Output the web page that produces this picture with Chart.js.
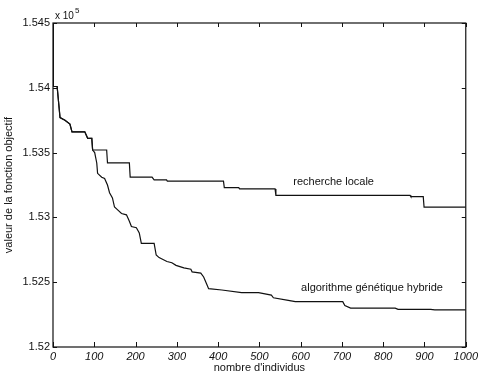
<!DOCTYPE html>
<html><head><meta charset="utf-8">
<script src="https://cdn.jsdelivr.net/npm/chart.js@4"></script>
<style>html,body{margin:0;padding:0;background:#fff}</style>
</head><body><canvas id="c" width="481" height="376"></canvas>
<script>
const xTicks = [0,100,200,300,400,500,600,700,800,900,1000];
const yTicks = [1.52,1.525,1.53,1.535,1.54,1.545];
const yExponent = '5';

const localX = [0,1,10,17,29,41,46,77,84,94,96,130,132,185,187,240,245,275,277,413,415,450,452,538,540,865,867,897,899,1000];
const localY = [1.545,1.5401,1.5401,1.5377,1.5375,1.5372,1.5366,1.5366,1.5361,1.5361,1.5352,1.5352,1.5342,1.5342,1.5331,1.5331,1.5329,1.5329,1.5328,1.5328,1.5323,1.5323,1.5322,1.5322,1.5317,1.5317,1.5316,1.5316,1.5308,1.5308];

const hybridX = [0,1,10,17,29,41,46,77,84,94,96,101,106,108,118,125,132,137,144,149,156,166,178,185,190,202,209,214,245,250,257,276,288,298,317,334,337,358,365,373,377,409,457,498,529,534,570,587,702,707,721,829,836,915,925,1000];
const hybridY = [1.545,1.5401,1.5401,1.5377,1.5375,1.5372,1.5366,1.5366,1.5361,1.5361,1.5352,1.5350,1.5342,1.5334,1.5331,1.5330,1.5325,1.5319,1.5315,1.5308,1.5306,1.5303,1.5302,1.5297,1.5293,1.5292,1.5288,1.5280,1.5280,1.5271,1.5269,1.5266,1.5265,1.5263,1.5261,1.5260,1.5258,1.5257,1.5254,1.5248,1.5245,1.5244,1.5242,1.5242,1.5240,1.5238,1.5236,1.5235,1.5235,1.5232,1.5230,1.5230,1.5229,1.5229,1.52286,1.52286];

const seriesLabels = ['recherche locale','algorithme génétique hybride'];
const labelAnchors = [[582,1.5327],[601,1.52456]];
const xTitle = "nombre d'individus";
const yTitle = 'valeur de la fonction objectif';

const FONT = "'Liberation Sans', Arial, sans-serif";

const framePlugin = {
  id:'frame',
  afterDraw(chart){
    const {ctx, chartArea:a, scales:{x,y}} = chart;
    ctx.save();
    ctx.strokeStyle = '#111';
    ctx.lineWidth = 1.2;
    ctx.strokeRect(a.left, a.top, a.right-a.left, a.bottom-a.top);
    ctx.lineWidth = 1;
    ctx.beginPath();
    xTicks.forEach(v=>{
      const px = Math.round(x.getPixelForValue(v))+0.5;
      ctx.moveTo(px,a.bottom); ctx.lineTo(px,a.bottom-5);
      ctx.moveTo(px,a.top); ctx.lineTo(px,a.top+4);
    });
    yTicks.forEach(v=>{
      const py = Math.round(y.getPixelForValue(v))+0.5;
      ctx.moveTo(a.left,py); ctx.lineTo(a.left+4,py);
      ctx.moveTo(a.right,py); ctx.lineTo(a.right-4,py);
    });
    ctx.stroke();
    ctx.fillStyle = '#111';
    ctx.font = '11px '+FONT;
    ctx.textBaseline = 'middle';
    ctx.textAlign = 'left';
    labelAnchors.forEach((p,i)=>{
      ctx.fillText(seriesLabels[i], x.getPixelForValue(p[0]), y.getPixelForValue(p[1]));
    });
    ctx.font = '10px '+FONT;
    ctx.textBaseline = 'alphabetic';
    ctx.fillText('x 10', a.left+2, a.top-4);
    const w = ctx.measureText('x 10').width;
    ctx.font = '8px '+FONT;
    ctx.fillText(yExponent, a.left+2+w+1, a.top-10);
    ctx.restore();
  }
};

new Chart(document.getElementById('c'), {
  type:'line',
  data:{datasets:[
    {label:seriesLabels[0], data:localX.map((v,i)=>({x:v,y:localY[i]})), borderColor:'#111', borderWidth:1.2, pointRadius:0, fill:false, tension:0},
    {label:seriesLabels[1], data:hybridX.map((v,i)=>({x:v,y:hybridY[i]})), borderColor:'#111', borderWidth:1.2, pointRadius:0, fill:false, tension:0}
  ]},
  options:{
    responsive:false, animation:false, devicePixelRatio:1,
    layout:{padding:{left:0,right:12,top:23,bottom:0}},
    plugins:{legend:{display:false}, tooltip:{enabled:false}},
    scales:{
      x:{type:'linear', min:0, max:1000,
        afterBuildTicks:s=>{s.ticks = xTicks.map(v=>({value:v}));},
        afterFit:s=>{s.height = 29;},
        grid:{display:false, drawTicks:false}, border:{display:false},
        ticks:{color:'#111', padding:3, maxRotation:0, autoSkip:false, font:{family:FONT,size:11,style:'italic'}, callback:v=>String(v)},
        title:{display:true, text:xTitle, color:'#111', font:{family:FONT,size:11}, padding:{top:0,bottom:1}}
      },
      y:{type:'linear', min:1.52, max:1.545,
        afterBuildTicks:s=>{s.ticks = yTicks.map(v=>({value:v}));},
        afterFit:s=>{s.width = 53;},
        grid:{display:false, drawTicks:false}, border:{display:false},
        ticks:{color:'#111', padding:3, autoSkip:false, font:{family:FONT,size:11}, callback:v=>String(Number(v.toFixed(3)))},
        title:{display:true, text:yTitle, color:'#111', font:{family:FONT,size:11}, padding:{top:2,bottom:0}}
      }
    }
  },
  plugins:[framePlugin]
});
</script></body></html>
